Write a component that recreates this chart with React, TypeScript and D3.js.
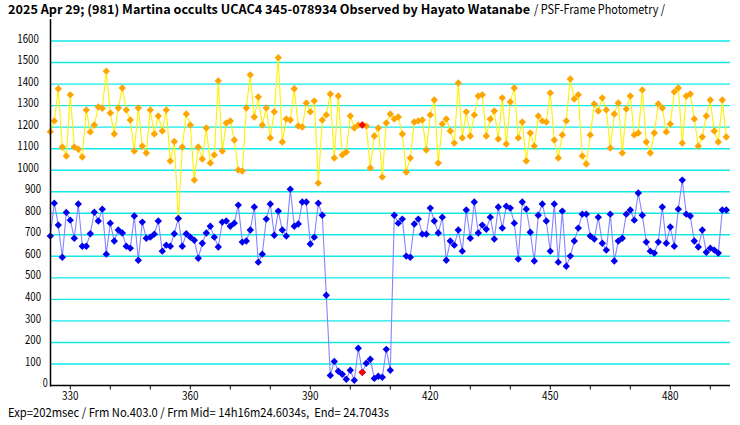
import React from "react";
import * as d3 from "d3";

const FIRST_FRAME = 325;
const HIGHLIGHT_FRAME = 403;

const compValues = [
  1179, 1229, 1378, 1108, 1066, 1350, 1108, 1097, 1061, 1280,
  1178, 1210, 1294, 1288, 1460, 1266, 1168, 1289, 1382, 1280,
  1233, 1089, 1289, 1112, 1080, 1280, 1168, 1252, 1182, 1280,
  1043, 1133, 776, 1108, 1261, 1210, 954, 1108, 1052, 1196,
  1033, 1071, 1415, 1089, 1219, 1229, 1140, 1001, 996, 1289,
  1443, 1247, 1340, 1210, 1289, 1150, 1271, 1522, 1131, 1238,
  1233, 1378, 1205, 1201, 1312, 1271, 1322, 940, 1233, 1257,
  1354, 1057, 1345, 1071, 1084, 1252, 1196, 1210, 1210, 1205,
  1010, 1159, 1196, 968, 1219, 1261, 1238, 1247, 1168, 991,
  1057, 1224, 1229, 1233, 1094, 1257, 1326, 1033, 1215, 1238,
  1182, 1126, 1405, 1150, 1271, 1159, 1257, 1345, 1350, 1159,
  1238, 1275, 1145, 1336, 1122, 1317, 1382, 1150, 1224, 1043,
  1173, 1112, 1252, 1229, 1224, 1359, 1140, 1057, 1164, 1229,
  1424, 1331, 1350, 1066, 1029, 1164, 1308, 1275, 1336, 1280,
  1103, 1261, 1312, 1080, 1284, 1345, 1164, 1173, 1373, 1131,
  1080, 1173, 1308, 1289, 1178, 1215, 1364, 1382, 1126, 1345,
  1354, 1238, 1112, 1154, 1252, 1326, 1182, 1131, 1326, 1154,
];

const targetValues = [
  694, 847, 745, 596, 804, 768, 684, 843, 647, 647,
  705, 805, 764, 819, 610, 754, 671, 722, 708, 647,
  638, 787, 582, 759, 684, 689, 703, 764, 624, 652,
  647, 705, 776, 647, 705, 689, 675, 591, 661, 708,
  740, 689, 643, 759, 764, 740, 754, 838, 666, 671,
  722, 829, 573, 610, 773, 843, 698, 810, 722, 694,
  912, 740, 750, 852, 852, 657, 689, 847, 791, 419,
  47, 112, 66, 52, 29, 71, 24, 173, 61, 103,
  122, 33, 43, 38, 168, 71, 791, 754, 773, 601,
  596, 750, 773, 703, 703, 824, 764, 708, 782, 582,
  671, 652, 722, 624, 815, 684, 852, 708, 745, 726,
  782, 680, 829, 731, 833, 824, 754, 587, 852, 819,
  712, 578, 791, 843, 764, 624, 843, 573, 810, 554,
  601, 671, 731, 796, 796, 694, 680, 782, 661, 629,
  796, 578, 671, 684, 796, 815, 768, 894, 791, 666,
  624, 615, 666, 829, 661, 736, 647, 819, 954, 796,
  787, 671, 643, 722, 619, 638, 629, 615, 815, 815,
];

const yTicks = [0, 100, 200, 300, 400, 500, 600, 700, 800, 900, 1000, 1100, 1200, 1300, 1400, 1500, 1600];
const xMinorTicks = [330, 340, 350, 360, 370, 380, 390, 400, 410, 420, 430, 440, 450, 460, 470, 480, 490];
const xLabels = [330, 360, 390, 420, 450, 480];

const titleBold = "2025 Apr 29; (981) Martina occults UCAC4 345-078934 Observed by Hayato Watanabe";
const titleNormal = "/ PSF-Frame Photometry /";
const footerText = "Exp=202msec / Frm No.403.0 / Frm Mid= 14h16m24.6034s,  End= 24.7043s";

const FONT = "'Noto Sans CJK JP', 'Liberation Sans', sans-serif";

type Pt = { frame: number; value: number };

export default function App() {
  const W = 740;
  const H = 425;
  const x = d3.scaleLinear().domain([325, 495]).range([50.3, 730.3]);
  const y = d3.scaleLinear().domain([0, 1700]).range([385.5, 19.5]);

  const comp: Pt[] = compValues.map((v, i) => ({ frame: FIRST_FRAME + i, value: v }));
  const target: Pt[] = targetValues.map((v, i) => ({ frame: FIRST_FRAME + i, value: v }));

  const line = d3
    .line<Pt>()
    .x((d) => x(d.frame))
    .y((d) => y(d.value));

  const r = 3.7;
  const diamond = `M0,${-r}L${r},0L0,${r}L${-r},0Z`;

  const labelX = (t: number) => {
    const n = String(t).length;
    if (n === 1) return 42.7;
    if (n === 3) return 25;
    return 17.3;
  };

  const marker = (d: Pt, color: string, key: string) => (
    <path
      key={key}
      d={diamond}
      transform={`translate(${x(d.frame)},${y(d.value)})`}
      fill={color}
    />
  );

  return (
    <div style={{ position: "absolute", left: 0, top: 0, width: W, height: H, background: "#fff" }}>
      <svg width={W} height={H} style={{ display: "block" }} fontFamily={FONT}>
        <rect x={0} y={0} width={W} height={H} fill="#ffffff" />
        {/* gridlines */}
        {yTicks
          .filter((t) => t > 0)
          .map((t) => (
            <line key={"g" + t} x1={50} x2={730} y1={y(t)} y2={y(t)} stroke="#12E8E8" strokeWidth={1.4} />
          ))}
        {/* y labels */}
        {yTicks.map((t) => (
          <text
            key={"yl" + t}
            x={labelX(t)}
            y={y(t) + 1.6}
            fontSize={11.5}
            fill="#000"
            textLength={String(t).length * 5.5 - 0.5}
            lengthAdjust="spacingAndGlyphs"
          >
            {t}
          </text>
        ))}
        {/* comparison series */}
        <path d={line(comp) || ""} fill="none" stroke="#FFF000" strokeWidth={1.1} />
        {comp.map((d) => marker(d, "#FFA500", "c" + d.frame))}
        {/* target series */}
        <path d={line(target) || ""} fill="none" stroke="#8585FF" strokeWidth={1.1} />
        {target.map((d) => marker(d, "#0000F0", "t" + d.frame))}
        {/* highlighted frame */}
        {comp.filter((d) => d.frame === HIGHLIGHT_FRAME).map((d) => marker(d, "#FF0000", "hc"))}
        {target.filter((d) => d.frame === HIGHLIGHT_FRAME).map((d) => marker(d, "#FF0000", "ht"))}
        {/* axes */}
        <line x1={50.5} x2={50.5} y1={19} y2={386.5} stroke="#000" strokeWidth={1.5} />
        <line x1={50} x2={730} y1={385.5} y2={385.5} stroke="#000" strokeWidth={1.5} />
        {xMinorTicks.map((t) => (
          <line key={"xt" + t} x1={x(t)} x2={x(t)} y1={385.5} y2={389.5} stroke="#000" strokeWidth={1} />
        ))}
        {xLabels.map((t) => (
          <text
            key={"xl" + t}
            x={x(t)}
            y={399.5}
            fontSize={11.5}
            textAnchor="middle"
            fill="#000"
            textLength={16.5}
            lengthAdjust="spacingAndGlyphs"
          >
            {t}
          </text>
        ))}
        {/* title */}
        <text x={8} y={13.5} fontSize={12.5} fontWeight="bold" fill="#000" textLength={522} lengthAdjust="spacingAndGlyphs">
          {titleBold}
        </text>
        <text x={534} y={13.5} fontSize={12.5} fill="#000" textLength={131} lengthAdjust="spacingAndGlyphs">
          {titleNormal}
        </text>
        {/* footer */}
        <text
          x={8}
          y={417}
          fontSize={12}
          fill="#000"
          textLength={381}
          lengthAdjust="spacingAndGlyphs"
          style={{ whiteSpace: "pre" }}
        >
          {footerText}
        </text>
      </svg>
    </div>
  );
}
